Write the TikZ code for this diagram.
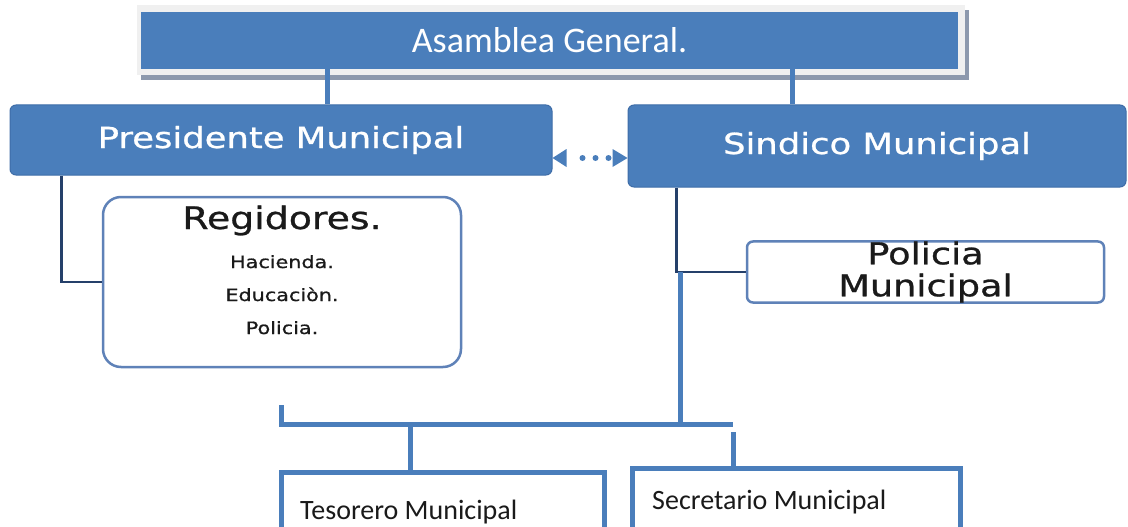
\documentclass[tikz,border=0pt]{standalone}
\usepackage{fontspec}
\setmainfont{Carlito}
\newfontfamily\boxfont[FakeStretch=1.22,FakeBold=0.9]{DejaVu Sans}
\usetikzlibrary{arrows.meta}
\definecolor{orgblue}{HTML}{4A7EBB}
\definecolor{orgedge}{HTML}{3E6DA8}
\definecolor{orgnavy}{HTML}{25406A}
\definecolor{orgsoft}{HTML}{5F82B8}
\definecolor{orgframe}{HTML}{F0F0F0}
\definecolor{orgshadow}{HTML}{8D99AD}
\definecolor{orgtext}{HTML}{1A1A1A}

\begin{document}
\begin{tikzpicture}[x=1pt, y=-1pt,
  bluebox/.style={rectangle, rounded corners=6pt, fill=orgblue, draw=orgedge, line width=1pt, text=white, inner sep=0pt, font=\boxfont\fontsize{29}{32}\selectfont},
  whitebox/.style={rectangle, fill=white, draw=orgsoft, line width=2.5pt, inner sep=0pt, text=orgtext},
  framebox/.style={rectangle, fill=white, draw=orgblue, line width=5pt, inner sep=0pt},
  busline/.style={orgblue, line width=5pt},
  thinline/.style={orgnavy, line width=2.5pt},
  listtext/.style={anchor=base, inner sep=0pt, text=orgtext, font=\boxfont\fontsize{17}{20}\selectfont}]
\useasboundingbox (0,0) rectangle (1128,527);
\clip (0,0) rectangle (1128,527);

% Top box with its frame and shadow
\fill[orgshadow] (141,10) rectangle (969,80);
\fill[orgframe] (137,5) rectangle (965,75);
\node[rectangle, fill=orgblue, text=white, minimum width=817pt, minimum height=57pt, inner sep=0pt,
  font=\fontsize{36}{40}\selectfont] (asamblea) at (549.5,40.5) {Asamblea General.};

% Second level
\node[bluebox, minimum width=542pt, minimum height=70pt] (presidente) at (281,140) {Presidente Municipal};
\node[bluebox, minimum width=498pt, minimum height=82pt] (sindico) at (877,146) {Sindico Municipal};

\draw[busline] ([xshift=187pt]asamblea.south west) -- ([xshift=187pt]asamblea.south west |- presidente.north);
\draw[busline] ([xshift=652pt]asamblea.south west) -- ([xshift=652pt]asamblea.south west |- sindico.north);

\coordinate (arrowy) at (0,158);
\draw[orgblue, line width=6pt, line cap=round,
  dash pattern=on 0pt off 13pt on 0pt off 13pt on 0pt off 13pt on 0pt off 30pt, dash phase=53pt,
  {Triangle[length=14pt,width=18pt,line width=0pt]}-{Triangle[length=15pt,width=18pt,line width=0pt]}]
  (presidente.east |- arrowy) -- (sindico.west |- arrowy);

% Regidores
\node[whitebox, rounded corners=18pt, minimum width=358pt, minimum height=170pt] (regidores) at (282,282) {};
\node[anchor=base, inner sep=0pt, text=orgtext, font=\boxfont\fontsize{31}{34}\selectfont] (regtitle) at (282,229) {Regidores.};
\foreach \y/\txt in {268/Hacienda., 301/Educaciòn., 334/Policia.} {
    \node[listtext] (reg-\y) at (282,\y) {\txt};
}
\draw[thinline] ([xshift=52pt]presidente.south west) |- (regidores.west);

% Policia
\node[whitebox, rounded corners=6pt, minimum width=357pt, minimum height=60pt, align=center,
  font=\boxfont\fontsize{30}{32}\selectfont] (policia) at (925.5,272) {Policia\\Municipal};
\draw[thinline] ([xshift=49pt]sindico.south west) |- (policia.west);

% Lower bus
\coordinate (sinJ) at (680,272);
\coordinate (busM) at (680,424);
\coordinate (busTop) at (281,405);
\coordinate (busR) at (733,424);
\coordinate (tesJ) at (410,424);
\coordinate (secJ) at (733,432);
\draw[busline] (busTop) |- (busR);
\draw[busline] (sinJ) -- (busM);

\node[framebox, minimum width=323pt, minimum height=72.5pt] (tesorero) at (443,508.75) {};
\node[framebox, minimum width=328pt, minimum height=76.5pt] (secretario) at (796.5,506.75) {};
\node[anchor=base west, inner sep=0pt, text=orgtext, font=\fontsize{28}{30}\selectfont] (testext) at (300,519) {Tesorero Municipal};
\node[anchor=base west, inner sep=0pt, text=orgtext, font=\fontsize{28}{30}\selectfont] (sectext) at (652,509) {Secretario Municipal};

\draw[busline] (tesJ) -- (tesJ |- tesorero.north);
\draw[busline] (secJ) -- (secJ |- secretario.north);
\end{tikzpicture}
\end{document}
